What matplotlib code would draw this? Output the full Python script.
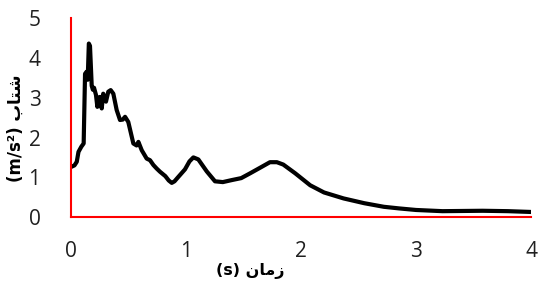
import matplotlib
matplotlib.use("Agg")
import matplotlib.pyplot as plt

# time (s) and acceleration (m/s^2)
t = [0.0, 0.03, 0.05, 0.065, 0.09, 0.11, 0.122, 0.135, 0.145, 0.155, 0.165, 0.18,
     0.19, 0.2, 0.217, 0.229, 0.24, 0.252, 0.267, 0.28, 0.304, 0.324, 0.345, 0.368,
     0.397, 0.426, 0.45, 0.47, 0.498, 0.542, 0.57, 0.586, 0.615, 0.658, 0.687, 0.716,
     0.745, 0.774, 0.82, 0.85, 0.876, 0.9, 0.93, 0.991, 1.03, 1.064, 1.107, 1.18, 1.252,
     1.32, 1.397, 1.48, 1.557, 1.65, 1.73, 1.79, 1.846, 1.95, 2.08, 2.2, 2.37, 2.55,
     2.72, 2.85, 3.0, 3.23, 3.58, 3.8, 4.0]
acc = [1.26, 1.3, 1.39, 1.64, 1.77, 1.85, 3.6, 3.65, 3.45, 4.36, 4.3, 3.3,
       3.2, 3.25, 3.07, 2.77, 3.0, 3.02, 2.73, 3.1, 2.9, 3.15, 3.19, 3.1,
       2.69, 2.44, 2.45, 2.52, 2.39, 1.85, 1.8, 1.89, 1.68, 1.47, 1.43, 1.31,
       1.22, 1.14, 1.03, 0.92, 0.86, 0.9, 1.0, 1.2, 1.4, 1.5, 1.45, 1.15, 0.9,
       0.88, 0.93, 0.98, 1.1, 1.25, 1.38, 1.38, 1.32, 1.1, 0.8, 0.62, 0.47, 0.35,
       0.26, 0.22, 0.18, 0.15, 0.16, 0.15, 0.13]

x_ticks = [0, 1, 2, 3, 4]
y_ticks = [0, 1, 2, 3, 4, 5]

x_label = "(s) " + "\uFEE5\uFE8E\uFEE3\uFEAF"
y_label = "(m/s\u00b2) " + "\uFE8F\uFE8E\uFE98\uFEB7"

fig = plt.figure(figsize=(5.38, 2.82), dpi=100)
ax = fig.add_axes([0.132, 0.230, 0.855, 0.706])

ax.plot(t, acc, color="black", linewidth=3.0, solid_joinstyle="round")

ax.set_xlim(0, 4)
ax.set_ylim(0, 5)
ax.set_xticks(x_ticks)
ax.set_yticks(y_ticks)
ax.tick_params(length=0, labelsize=15, labelcolor="#202020")
ax.tick_params(axis="x", pad=17)
ax.tick_params(axis="y", pad=22)
for lbl in ax.get_xticklabels() + ax.get_yticklabels():
    lbl.set_family("Open Sans")

for side in ("top", "right"):
    ax.spines[side].set_visible(False)
for side in ("left", "bottom"):
    ax.spines[side].set_color("red")
    ax.spines[side].set_linewidth(1.5)

fig.text(250 / 538, 1 - 271 / 282, x_label, ha="center", va="center",
         fontsize=11.5, fontweight="bold", family=["DejaVu Sans"])
fig.text(16 / 538, 1 - 128 / 282, y_label, ha="center", va="center",
         rotation=90, fontsize=12, fontweight="bold", family=["DejaVu Sans"])

fig.savefig("out.png", dpi=100, facecolor="white")
